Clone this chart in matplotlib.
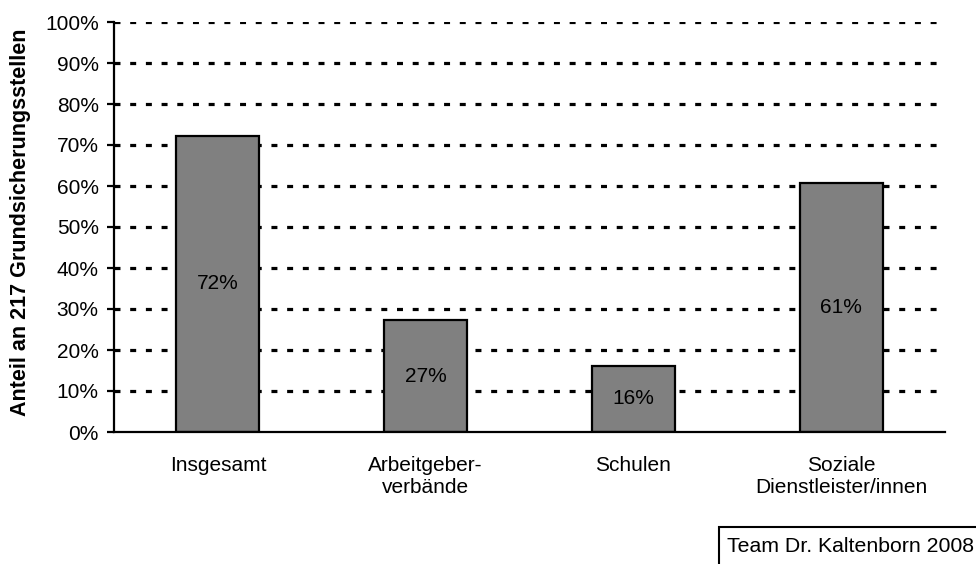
import matplotlib.pyplot as plt
from matplotlib.patches import Rectangle
import numpy as np

# Daten
categories = ["Insgesamt", "Arbeitgeber-\nverbände", "Schulen", "Soziale\nDienstleister/innen"]
values = [72.3, 27.2, 16.2, 60.8]
value_labels = ["72%", "27%", "16%", "61%"]
yticks = [0, 10, 20, 30, 40, 50, 60, 70, 80, 90, 100]
ytick_labels = [f"{t}%" for t in yticks]

plt.rcParams['font.family'] = ['Liberation Sans', 'DejaVu Sans']
plt.rcParams['lines.scale_dashes'] = False

fig = plt.figure(figsize=(9.76, 5.64), dpi=100)
ax = fig.add_axes([114 / 976, 1 - 432 / 564, (945 - 114) / 976, (432 - 22) / 564])

x = np.arange(len(categories))

# Gitterlinien (gestrichelt)
for t in yticks[1:]:
    ax.axhline(t, color='black', lw=2.3, dashes=(4.3, 7.0), zorder=1)

ax.bar(x, values, width=0.4, color='#808080', edgecolor='black', linewidth=1.6, zorder=2)

for xi, v, lab in zip(x, values, value_labels):
    ax.text(xi, v / 2, lab, ha='center', va='center', fontsize=15, zorder=3)

ax.set_xlim(-0.5, 3.5)
ax.set_ylim(0, 100)
ax.set_yticks(yticks)
ax.set_yticklabels(ytick_labels, fontsize=15)
ax.set_xticks(x)
ax.set_xticklabels(categories, fontsize=15, linespacing=1.2)
ax.tick_params(axis='x', length=0, pad=17)
ax.tick_params(axis='y', direction='out', length=5, width=1.6, pad=6)

for s in ['top', 'right']:
    ax.spines[s].set_visible(False)
for s in ['left', 'bottom']:
    ax.spines[s].set_linewidth(1.6)
    ax.spines[s].set_zorder(4)

ax.set_ylabel("Anteil an 217 Grundsicherungsstellen", fontsize=15.5, fontweight='bold')
ax.yaxis.set_label_coords(-0.1, 0.512)

# Quellenangabe unten rechts
fig.patches.append(Rectangle((719 / 976, -0.05), 0.3, 1 - 527 / 564 + 0.05, transform=fig.transFigure,
                             fc='white', ec='black', lw=1.5))
fig.text(727 / 976, 1 - 547 / 564, "Team Dr. Kaltenborn 2008", fontsize=15.3, ha='left', va='center')

fig.savefig("out.png", dpi=100)
